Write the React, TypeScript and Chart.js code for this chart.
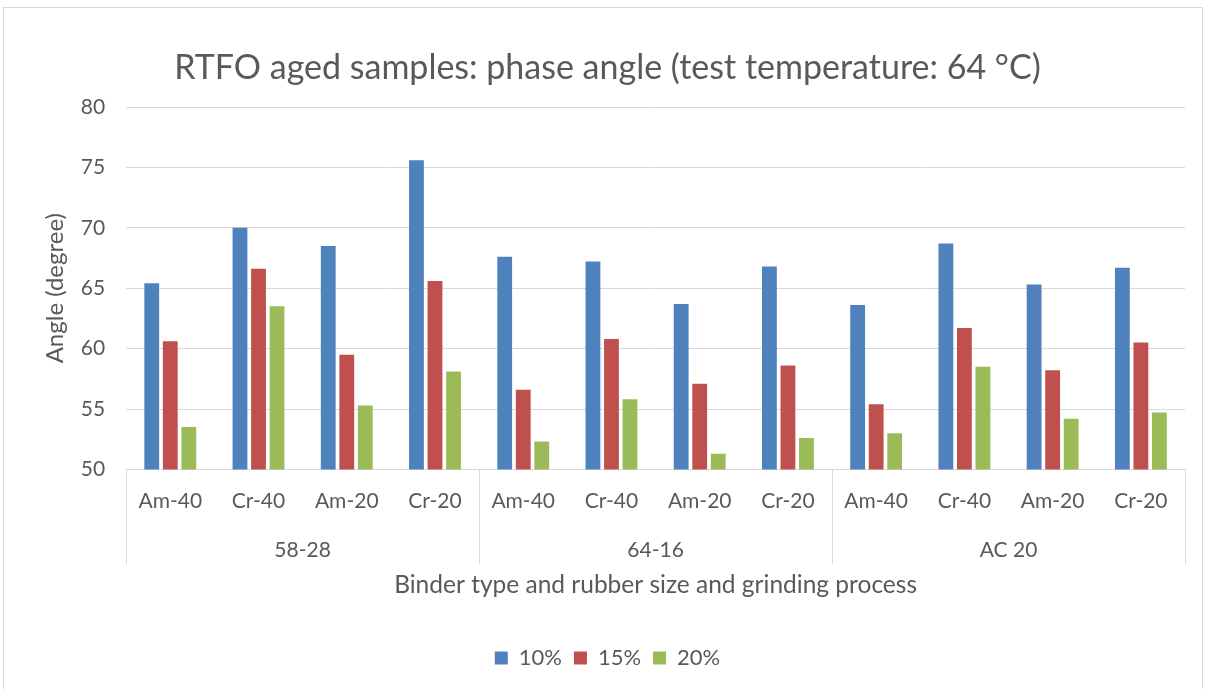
import React, { useEffect, useRef } from "react";
import { Chart, registerables } from "chart.js";

Chart.register(...registerables);

const categories = ["Am-40", "Cr-40", "Am-20", "Cr-20", "Am-40", "Cr-40", "Am-20", "Cr-20", "Am-40", "Cr-40", "Am-20", "Cr-20"];
const groups = ["58-28", "64-16", "AC 20"];
const seriesNames = ["10%", "15%", "20%"];
const series10 = [65.4, 70.0, 68.5, 75.6, 67.6, 67.2, 63.7, 66.8, 63.6, 68.7, 65.3, 66.7];
const series15 = [60.6, 66.6, 59.5, 65.6, 56.6, 60.8, 57.1, 58.6, 55.4, 61.7, 58.2, 60.5];
const series20 = [53.5, 63.5, 55.3, 58.1, 52.3, 55.8, 51.3, 52.6, 53.0, 58.5, 54.2, 54.7];
const yTicks = [50, 55, 60, 65, 70, 75, 80];
const colors = ["#4F81BD", "#C0504D", "#9BBB59"];

const FONT = "Lato, 'Open Sans', sans-serif";
const TEXT = "#595959";
const GRID = "#d9d9d9";

const groupSeparators = {
  id: "groupSeparators",
  afterDraw(chart: any) {
    const xs = chart.scales.x;
    const x2 = chart.scales.x2;
    if (!xs || !x2) return;
    const ctx = chart.ctx;
    const n = categories.length;
    const per = n / groups.length;
    const half = (xs.getPixelForValue(1) - xs.getPixelForValue(0)) / 2;
    const top = chart.chartArea.bottom;
    const bottom = x2.bottom - 71;
    ctx.save();
    ctx.strokeStyle = GRID;
    ctx.lineWidth = 1;
    for (let g = 0; g <= groups.length; g++) {
      let px: number;
      if (g === 0) px = xs.getPixelForValue(0) - half;
      else px = xs.getPixelForValue(g * per - 1) + half;
      px = Math.round(px) + 0.5;
      ctx.beginPath();
      ctx.moveTo(px, top);
      ctx.lineTo(px, bottom);
      ctx.stroke();
    }
    ctx.restore();
  },
};

export default function App() {
  const ref = useRef<HTMLCanvasElement | null>(null);
  useEffect(() => {
    if (!ref.current) return;
    const data = [series10, series15, series20];
    const chart = new Chart(ref.current, {
      type: "bar",
      data: {
        labels: categories,
        datasets: seriesNames.map((name, i) => ({
          label: name,
          data: data[i],
          backgroundColor: colors[i],
          borderWidth: 0,
          barPercentage: 0.8,
          categoryPercentage: 0.63,
          xAxisID: "x",
          yAxisID: "y",
        })),
      },
      options: {
        responsive: false,
        animation: false,
        devicePixelRatio: 1,
        layout: { padding: { left: 30, right: 22, top: 20, bottom: 10 } },
        plugins: {
          title: {
            display: true,
            text: "RTFO aged samples: phase angle (test temperature: 64 °C)",
            color: TEXT,
            font: { family: FONT, size: 34, weight: "normal" },
            padding: { top: 27.6, bottom: 18.6 },
          },
          legend: {
            display: true,
            position: "bottom",
            labels: {
              boxWidth: 13,
              boxHeight: 13,
              color: TEXT,
              font: { family: FONT, size: 22 },
              padding: 12,
            },
          },
          tooltip: { enabled: false },
        },
        scales: {
          x: {
            type: "category",
            position: "bottom",
            grid: { display: false, drawTicks: false },
            border: { display: true, color: GRID, width: 1 },
            ticks: { color: TEXT, font: { family: FONT, size: 21 }, padding: 19, maxRotation: 0, autoSkip: false },
          },
          x2: {
            type: "category",
            position: "bottom",
            labels: groups,
            offset: true,
            grid: { display: false, drawTicks: false },
            border: { display: false },
            ticks: { color: TEXT, font: { family: FONT, size: 21 }, padding: 5.2, maxRotation: 0, autoSkip: false },
            title: {
              display: true,
              text: "Binder type and rubber size and grinding process",
              color: TEXT,
              font: { family: FONT, size: 24.5 },
              padding: { top: 1.8, bottom: 35.6 },
            },
          },
          y: {
            type: "linear",
            min: yTicks[0],
            max: yTicks[yTicks.length - 1],
            grid: { color: GRID, drawTicks: false },
            border: { display: false },
            ticks: { stepSize: yTicks[1] - yTicks[0], color: TEXT, font: { family: FONT, size: 21 }, padding: 21 },
            title: {
              display: true,
              text: "Angle (degree)",
              color: TEXT,
              font: { family: FONT, size: 24 },
              padding: { top: 11, bottom: -10 },
            },
          },
        },
      },
      plugins: [groupSeparators],
    });
    return () => chart.destroy();
  }, []);
  return (
    <div style={{ position: "absolute", left: 0, top: 0, width: 1207, height: 689, background: "#fff" }}>
      <div style={{ position: "absolute", left: 3, top: 7, width: 1200, height: 690, border: `1px solid ${GRID}`, boxSizing: "border-box" }} />
      <canvas ref={ref} width={1207} height={689} style={{ position: "absolute", left: 0, top: 0, display: "block" }} />
    </div>
  );
}
